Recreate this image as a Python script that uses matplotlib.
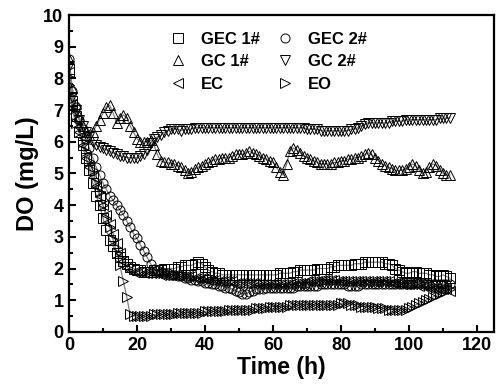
import matplotlib
matplotlib.use("Agg")
import matplotlib.pyplot as plt
import numpy as np
from matplotlib.ticker import MultipleLocator

time_h = list(range(0, 113))

gec1 = [8.3, 7.3, 6.8, 6.3, 5.9, 5.5, 5.1, 4.7, 4.3, 4.0,
        3.6, 3.2, 2.9, 2.7, 2.5, 2.35, 2.25, 2.15, 2.05, 2.0,
        1.95, 1.95, 1.9, 1.9, 1.9, 1.95, 1.95, 1.95, 2.0, 2.0,
        2.0, 2.0, 2.05, 2.05, 2.1, 2.1, 2.1, 2.15, 2.2, 2.15,
        2.05, 1.95, 1.9, 1.85, 1.85, 1.8, 1.8, 1.8, 1.8, 1.8,
        1.8, 1.8, 1.8, 1.8, 1.8, 1.8, 1.8, 1.8, 1.8, 1.8,
        1.8, 1.8, 1.85, 1.85, 1.85, 1.85, 1.9, 1.9, 1.95, 1.95,
        1.95, 1.95, 1.95, 2.0, 2.0, 2.0, 2.0, 2.05, 2.05, 2.1,
        2.1, 2.1, 2.1, 2.1, 2.15, 2.15, 2.15, 2.2, 2.2, 2.2,
        2.2, 2.2, 2.2, 2.15, 2.15, 2.1, 2.0, 1.95, 1.9, 1.85,
        1.85, 1.9, 1.9, 1.85, 1.85, 1.85, 1.8, 1.8, 1.75, 1.75,
        1.8, 1.75, 1.7]

gec2 = [8.6, 7.6, 7.1, 6.7, 6.4, 6.1, 5.8, 5.5, 5.2, 4.95,
        4.7, 4.5, 4.3, 4.15, 4.0, 3.85, 3.7, 3.5, 3.3, 3.1,
        2.95, 2.75, 2.55, 2.35, 2.15, 2.0, 1.95, 1.9, 1.85, 1.85,
        1.8, 1.8, 1.75, 1.75, 1.7, 1.7, 1.65, 1.65, 1.6, 1.6,
        1.55, 1.55, 1.5, 1.5, 1.45, 1.45, 1.4, 1.4, 1.35, 1.3,
        1.25, 1.2, 1.2, 1.25, 1.3, 1.35, 1.35, 1.35, 1.4, 1.4,
        1.4, 1.4, 1.4, 1.4, 1.4, 1.4, 1.4, 1.45, 1.45, 1.45,
        1.45, 1.45, 1.45, 1.45, 1.5, 1.5, 1.5, 1.5, 1.5, 1.5,
        1.5, 1.5, 1.45, 1.45, 1.45, 1.45, 1.5, 1.5, 1.5, 1.5,
        1.5, 1.5, 1.5, 1.5, 1.5, 1.5, 1.5, 1.5, 1.5, 1.5,
        1.5, 1.5, 1.55, 1.55, 1.55, 1.55, 1.5, 1.5, 1.5, 1.5,
        1.5, 1.5, 1.5]

gc1 = [8.6, 7.7, 7.2, 6.8, 6.5, 6.3, 6.2, 6.3, 6.5, 6.7,
       6.9, 7.1, 7.15, 6.9, 6.6, 6.75, 6.85, 6.75, 6.5, 6.3,
       6.1, 6.0, 6.0, 6.0, 6.05, 5.9, 5.6, 5.4, 5.35, 5.35,
       5.3, 5.3, 5.25, 5.2, 5.1, 5.0, 5.05, 5.15, 5.2, 5.25,
       5.3, 5.35, 5.4, 5.45, 5.45, 5.5, 5.5, 5.5, 5.55, 5.6,
       5.6, 5.6, 5.65, 5.7, 5.65, 5.6, 5.55, 5.5, 5.45, 5.4,
       5.35, 5.2, 5.05, 4.95, 5.3, 5.7, 5.8, 5.75, 5.65, 5.55,
       5.5, 5.45, 5.4, 5.35, 5.3, 5.3, 5.3, 5.3, 5.35, 5.35,
       5.4, 5.4, 5.45, 5.45, 5.5, 5.5, 5.55, 5.6, 5.65, 5.6,
       5.5, 5.4, 5.3, 5.25, 5.2, 5.15, 5.1, 5.1, 5.1, 5.15,
       5.2, 5.3, 5.25, 5.1, 5.0, 5.05, 5.2, 5.3, 5.25, 5.1,
       5.0, 4.95, 4.95]

gc2 = [8.4, 7.4, 7.0, 6.7, 6.5, 6.3, 6.15, 6.0, 5.9, 5.85,
       5.8, 5.75, 5.7, 5.65, 5.6, 5.55, 5.55, 5.5, 5.5, 5.5,
       5.5, 5.55, 5.6, 5.75, 5.95, 6.1, 6.15, 6.2, 6.3, 6.35,
       6.4, 6.4, 6.4, 6.35, 6.4, 6.4, 6.4, 6.45, 6.45, 6.45,
       6.45, 6.45, 6.45, 6.45, 6.45, 6.45, 6.45, 6.45, 6.45, 6.45,
       6.45, 6.45, 6.45, 6.45, 6.45, 6.45, 6.45, 6.45, 6.45, 6.45,
       6.45, 6.45, 6.45, 6.45, 6.45, 6.45, 6.45, 6.45, 6.45, 6.45,
       6.4, 6.4, 6.4, 6.4, 6.35, 6.35, 6.35, 6.35, 6.35, 6.35,
       6.35, 6.35, 6.35, 6.4, 6.4, 6.45, 6.5, 6.55, 6.6, 6.6,
       6.6, 6.6, 6.6, 6.6, 6.6, 6.65, 6.65, 6.65, 6.65, 6.7,
       6.7, 6.7, 6.7, 6.7, 6.7, 6.7, 6.7, 6.7, 6.7, 6.75,
       6.75, 6.75, 6.75]

ec = [8.2, 7.2, 6.7, 6.3, 5.9, 5.5, 5.2, 4.9, 4.6, 4.3,
      4.0, 3.7, 3.4, 3.1, 2.8, 2.5, 2.25, 2.05, 1.95, 1.9,
      1.9, 1.9, 1.85, 1.85, 1.85, 1.85, 1.85, 1.8, 1.8, 1.8,
      1.8, 1.8, 1.8, 1.75, 1.75, 1.75, 1.75, 1.7, 1.7, 1.7,
      1.7, 1.65, 1.65, 1.65, 1.6, 1.6, 1.6, 1.6, 1.6, 1.55,
      1.55, 1.55, 1.55, 1.55, 1.55, 1.55, 1.5, 1.5, 1.5, 1.5,
      1.5, 1.5, 1.5, 1.5, 1.5, 1.5, 1.55, 1.55, 1.55, 1.55,
      1.6, 1.6, 1.6, 1.6, 1.65, 1.65, 1.65, 1.65, 1.65, 1.6,
      1.6, 1.6, 1.6, 1.6, 1.6, 1.6, 1.6, 1.6, 1.6, 1.6,
      1.6, 1.6, 1.6, 1.6, 1.6, 1.55, 1.55, 1.55, 1.5, 1.5,
      1.5, 1.5, 1.5, 1.45, 1.45, 1.45, 1.4, 1.4, 1.4, 1.35,
      1.35, 1.35, 1.3]

eo = [7.8, 7.0, 6.6, 6.3, 6.0, 5.7, 5.4, 5.1, 4.7, 4.4,
      4.0, 3.6, 3.3, 2.9, 2.5, 2.1, 1.6, 1.1, 0.55, 0.5,
      0.5, 0.5, 0.5, 0.5, 0.5, 0.55, 0.55, 0.55, 0.55, 0.55,
      0.55, 0.55, 0.6, 0.6, 0.6, 0.6, 0.6, 0.6, 0.6, 0.6,
      0.65, 0.65, 0.65, 0.65, 0.65, 0.65, 0.65, 0.7, 0.7, 0.7,
      0.7, 0.7, 0.7, 0.7, 0.7, 0.75, 0.75, 0.75, 0.75, 0.8,
      0.8, 0.8, 0.8, 0.8, 0.8, 0.85, 0.85, 0.85, 0.85, 0.85,
      0.85, 0.85, 0.85, 0.85, 0.85, 0.85, 0.85, 0.85, 0.85, 0.85,
      0.9, 0.9, 0.9, 0.85, 0.85, 0.85, 0.8, 0.8, 0.8, 0.8,
      0.8, 0.75, 0.75, 0.75, 0.7, 0.7, 0.7, 0.7, 0.7, 0.7,
      0.75, 0.8, 0.85, 0.9, 0.95, 1.0, 1.05, 1.1, 1.15, 1.2,
      1.25, 1.3, 1.35]

series = [
    ("GEC 1#", gec1, "s"),
    ("GC 1#", gc1, "^"),
    ("EC", ec, "<"),
    ("GEC 2#", gec2, "o"),
    ("GC 2#", gc2, "v"),
    ("EO", eo, ">"),
]

plt.rcParams['font.family'] = ['Liberation Sans', 'DejaVu Sans']
plt.rcParams['font.weight'] = 'bold'

fig = plt.figure(figsize=(4.96, 3.90), dpi=100)
ax = fig.add_axes([0.139, 0.149, 0.857, 0.8125])

handles = []
for name, vals, mk in series:
    ax.plot(time_h, vals, color='#808080', lw=0.9, zorder=1)
    h, = ax.plot(time_h, vals, linestyle='none', marker=mk, markersize=6.5,
                 markerfacecolor='none', markeredgecolor='black',
                 markeredgewidth=0.7, label=name, zorder=2)
    handles.append(h)

ax.set_xlim(0, 125)
ax.set_ylim(0, 10)
ax.xaxis.set_major_locator(MultipleLocator(20))
ax.xaxis.set_minor_locator(MultipleLocator(10))
ax.yaxis.set_major_locator(MultipleLocator(1))
ax.yaxis.set_minor_locator(MultipleLocator(0.5))
ax.tick_params(which='both', direction='in', top=False, right=False,
               width=1.5, labelsize=13)
ax.tick_params(which='major', length=5, pad=4)
ax.tick_params(which='minor', length=3)
for lbl in ax.get_xticklabels() + ax.get_yticklabels():
    lbl.set_fontweight('bold')
for sp in ax.spines.values():
    sp.set_linewidth(1.6)

ax.set_xlabel("Time (h)", fontsize=16.5, fontweight='bold', labelpad=1)
ax.set_ylabel("DO (mg/L)", fontsize=17, fontweight='bold', labelpad=3)

leg = ax.legend(handles=handles, ncol=2, frameon=False, loc='upper left',
                bbox_to_anchor=(0.205, 0.995), fontsize=12,
                handlelength=0.8, handletextpad=1.0, columnspacing=1.1,
                labelspacing=0.45, markerscale=1.0)
for t in leg.get_texts():
    t.set_fontweight('bold')

fig.savefig("out.png", dpi=100)
